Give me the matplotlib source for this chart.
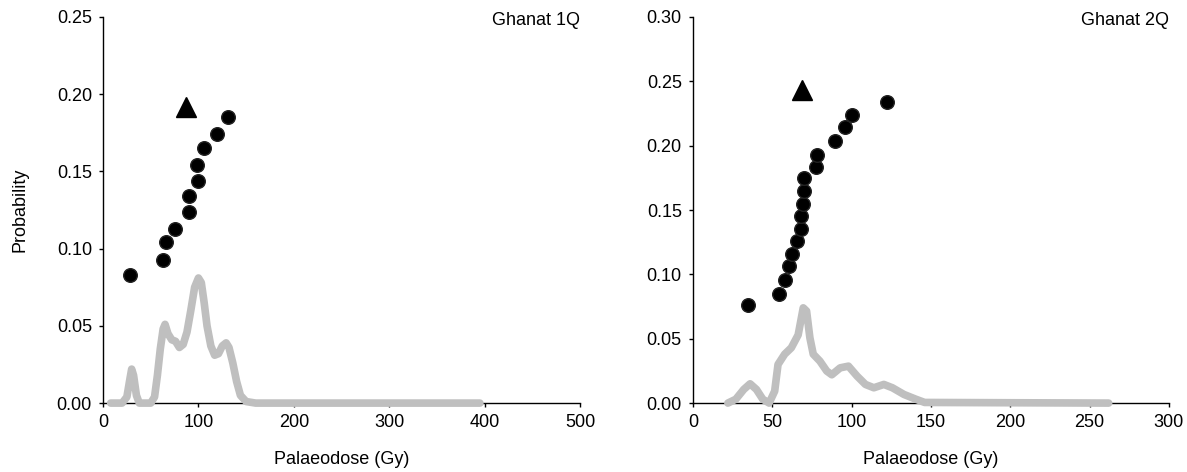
import numpy as np
import matplotlib
matplotlib.use("Agg")
import matplotlib.pyplot as plt

plt.rcParams['font.family'] = ['Liberation Sans', 'DejaVu Sans']
plt.rcParams['font.size'] = 13

############## data ##############

# Ghanat 1Q - individual aliquot palaeodoses (Gy) and plotting position
q1_dose = [28, 63, 66, 75, 90, 90, 100, 99, 106, 119, 131]
q1_prob = [0.083, 0.0925, 0.104, 0.113, 0.124, 0.134, 0.144, 0.154, 0.165, 0.174, 0.185]
q1_mean_dose = 87
q1_mean_prob = 0.192

# Ghanat 1Q - probability curve
q1_curve_x = [8, 20, 25, 28, 30, 32, 35, 38, 50, 54, 57, 60, 63, 65, 68, 72, 76, 80,
              84, 88, 92, 96, 100, 103, 106, 109, 113, 117, 121, 125, 129, 132, 136,
              140, 144, 150, 160, 395]
q1_curve_y = [0, 0, 0.004, 0.015, 0.022, 0.018, 0.005, 0.0, 0.0, 0.004, 0.018, 0.035,
              0.048, 0.051, 0.045, 0.041, 0.040, 0.036, 0.038, 0.046, 0.060, 0.075,
              0.081, 0.078, 0.065, 0.050, 0.037, 0.031, 0.032, 0.037, 0.039, 0.036,
              0.026, 0.014, 0.005, 0.001, 0, 0]

# Ghanat 2Q
q2_dose = [34.5, 54, 57.8, 60.4, 62.5, 65.3, 68, 68.4, 69.5, 69.9, 69.9, 77.3, 78.4,
           89.6, 96, 100.2, 122.5]
q2_prob = [0.076, 0.0845, 0.096, 0.1065, 0.116, 0.126, 0.135, 0.145, 0.155, 0.165,
           0.175, 0.1834, 0.193, 0.204, 0.2145, 0.224, 0.234]
q2_mean_dose = 69
q2_mean_prob = 0.243

q2_curve_x = [22, 27, 32, 36, 40, 44, 48, 51.5, 53.6, 57.8, 62, 66.3, 69.5, 71.6, 73.7,
              75.8, 80, 84.3, 87.5, 92.8, 98, 103.4, 108.7, 114, 120.3, 125.7, 133,
              140.5, 146, 262]
q2_curve_y = [0, 0.003, 0.0106, 0.015, 0.0106, 0.003, 0.0, 0.0093, 0.030, 0.038, 0.043,
              0.053, 0.074, 0.0715, 0.0507, 0.038, 0.0326, 0.0249, 0.022, 0.0274, 0.0287,
              0.021, 0.0145, 0.0119, 0.0145, 0.0119, 0.0067, 0.003, 0.0005, 0]

panels = [
    ("Ghanat 1Q", q1_dose, q1_prob, q1_mean_dose, q1_mean_prob, q1_curve_x, q1_curve_y,
     (0, 500), [0, 100, 200, 300, 400, 500], (0, 0.25), [0, 0.05, 0.10, 0.15, 0.20, 0.25]),
    ("Ghanat 2Q", q2_dose, q2_prob, q2_mean_dose, q2_mean_prob, q2_curve_x, q2_curve_y,
     (0, 300), [0, 50, 100, 150, 200, 250, 300], (0, 0.30), [0, 0.05, 0.10, 0.15, 0.20, 0.25, 0.30]),
]

############## plot ##############

fig = plt.figure(figsize=(11.87, 4.72), dpi=100)
positions = [[0.0868, 0.146, 0.4019, 0.818], [0.5838, 0.146, 0.401, 0.818]]

for i, (name, dose, prob, md, mp, cx, cy, xl, xt, yl, yt) in enumerate(panels):
    ax = fig.add_axes(positions[i])
    ax.plot(cx, cy, color='#bfbfbf', lw=5.5, solid_capstyle='round',
            solid_joinstyle='round', clip_on=False, zorder=4)
    ax.plot(dose, prob, 'o', color='black', ms=9.8, mec='#222222', zorder=5, clip_on=False)
    ax.plot([md], [mp], '^', color='black', ms=14, zorder=5, clip_on=False)

    ax.set_xlim(*xl)
    ax.set_ylim(*yl)
    ax.set_xticks(xt)
    ax.set_yticks(yt)
    ax.set_yticklabels(["{:.2f}".format(v) for v in yt])
    for s in ['top', 'right']:
        ax.spines[s].set_visible(False)
    for s in ['left', 'bottom']:
        ax.spines[s].set_linewidth(1.0)
    ax.tick_params(direction='out', length=3, width=1, pad=5)
    ax.set_xlabel("Palaeodose (Gy)", labelpad=14)
    if i == 0:
        ax.set_ylabel("Probability", labelpad=20)
    ax.text(1.0, 0.99, name, transform=ax.transAxes, ha='right', va='center')

fig.savefig("out.png", dpi=100)
